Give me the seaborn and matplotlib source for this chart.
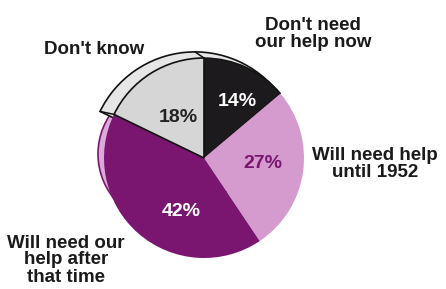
import matplotlib
matplotlib.use("Agg")
import numpy as np
import matplotlib.pyplot as plt
import seaborn as sns
from matplotlib.patches import Wedge, Circle

sns.set_theme(style="white")
plt.rcParams['font.family'] = ['Liberation Sans', 'DejaVu Sans']

# Data
categories = ["Don't need\nour help now", "Will need help\nuntil 1952",
              "Will need our\nhelp after\nthat time", "Don't know"]
values = [14, 27, 42, 18]
pct_labels = ["14%", "27%", "42%", "18%"]
colors = ["#1c1a1c", "#d59bcf", "#7b1670", "#d6d6d6"]
pct_colors = ["white", "#7b1670", "white", "#222222"]

W, H = 446, 289
fig = plt.figure(figsize=(W / 100, H / 100), dpi=100)
ax = fig.add_axes([0, 0, 1, 1])

cx, cy, R = 204, H - 158, 100

wedges, _ = ax.pie(values, colors=colors, startangle=90, counterclock=False,
                   center=(cx, cy), radius=R, frame=True,
                   wedgeprops=dict(linewidth=0))
for w in wedges:
    w.set_zorder(3)
wedges[3].set_edgecolor("#111111")
wedges[3].set_linewidth(1.2)
wedges[0].set_edgecolor("#111111")
wedges[0].set_linewidth(1.0)

# 3D-ish rim behind the pie (top-left side)
rcx, rcy, rR = 195, H - 157.4, 105.5
t1 = wedges[0].theta1 % 360          # boundary black / pink
t2 = wedges[3].theta2 % 360          # boundary purple / grey
ax.add_patch(Wedge((rcx, rcy), rR, t1 - 3, t2, facecolor="#e6e6e6",
                   edgecolor="#111111", lw=1.2, zorder=2))
# short side edges of the lifted rim
for th in (90, t2):
    a = np.deg2rad(th)
    ax.plot([cx + R * np.cos(a), rcx + rR * np.cos(a)],
            [cy + R * np.sin(a), rcy + rR * np.sin(a)],
            color="#111111", lw=1.1, zorder=4)
# pink edge on the left of the purple slice
ax.add_patch(Circle((cx - 36, cy + 4), R - 30, facecolor="#dcaad8",
                    edgecolor="#7b1670", lw=1.2, zorder=1))

ax.set_xlim(0, W)
ax.set_ylim(0, H)
ax.set_aspect("equal")
ax.axis("off")

# percentage labels (pixel positions)
pct_pos = [(237, 102), (263, 163), (181, 211), (178, 118)]
for (px, py), t, c in zip(pct_pos, pct_labels, pct_colors):
    ax.text(px, H - py, t, ha="center", va="center", fontsize=14,
            fontweight="bold", color=c, zorder=5)

# category labels
cat_pos = [(313, 34), (375, 164), (66, 260), (94, 50)]
for (px, py), t in zip(cat_pos, categories):
    ax.text(px, H - py, t, ha="center", va="center", fontsize=13.5,
            fontweight="bold", color="#1a1a1a", linespacing=1.0, zorder=5)

fig.savefig("out.png", dpi=100, facecolor="white")
